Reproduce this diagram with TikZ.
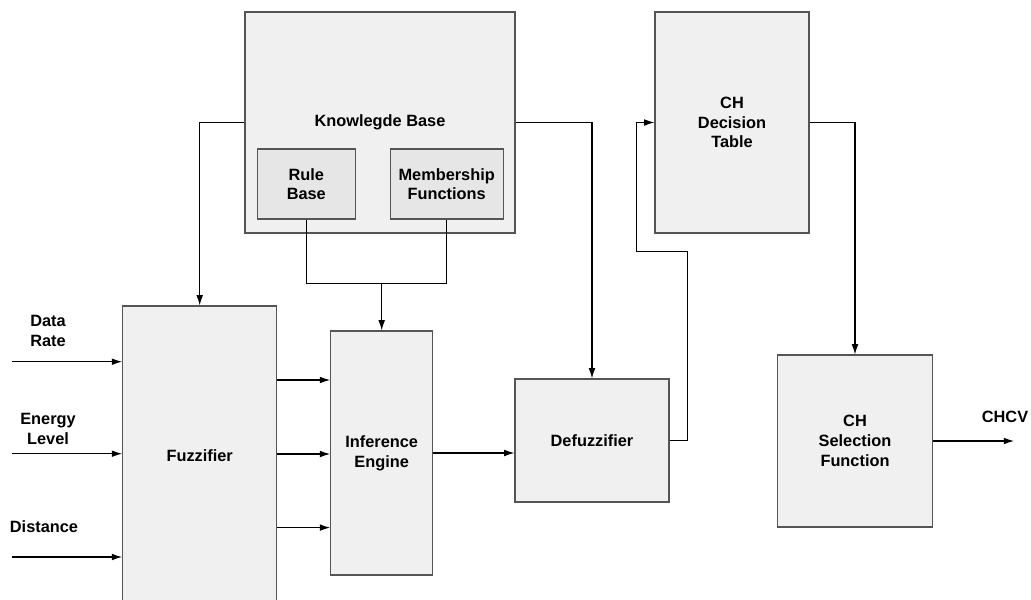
\documentclass[tikz,border=0pt]{standalone}
\usepackage{fontspec}
\setmainfont{Liberation Sans}
\usetikzlibrary{arrows.meta,calc}
\definecolor{boxfill}{HTML}{F0F0F0}
\definecolor{innerfill}{HTML}{E6E6E6}
\definecolor{boxline}{HTML}{555555}
\begin{document}
\begin{tikzpicture}[x=0.02cm, y=-0.02cm,
    every node/.style={font=\fontsize{9.3}{11.2}\selectfont\bfseries, align=center},
    block/.style={draw=boxline, line width=0.7pt, fill=boxfill, inner sep=0pt},
    subblock/.style={block, fill=innerfill},
    link/.style={line width=0.6pt},
    flow/.style={link, -{Latex[length=5.8pt,width=3.8pt]}}]
    \clip (0,0) rectangle (1031,599);

    % Knowledge base with its two parts
    \node[block, minimum width=270*0.02cm, minimum height=221*0.02cm] (kb) at (380,122.5) {Knowlegde Base};
    \node[subblock, minimum width=98*0.02cm, minimum height=70*0.02cm] (rule) at (306.3,184) {Rule\\Base};
    \node[subblock, minimum width=113*0.02cm, minimum height=70*0.02cm] (memb) at (446.7,184) {Membership\\Functions};

    % Fuzzy controller chain
    \node[block, minimum width=154*0.02cm, minimum height=300*0.02cm] (fuzz) at (199.7,456) {Fuzzifier};
    \node[block, minimum width=102*0.02cm, minimum height=244*0.02cm] (inf) at (381.7,453) {Inference\\Engine};
    \node[block, minimum width=154*0.02cm, minimum height=123*0.02cm] (defuzz) at (592,440.5) {Defuzzifier};

    % Cluster head stage
    \node[block, minimum width=154*0.02cm, minimum height=221*0.02cm] (table) at (732,122.5) {CH\\Decision\\Table};
    \node[block, minimum width=155*0.02cm, minimum height=172*0.02cm] (select) at (855,441) {CH\\Selection\\Function};

    % Inputs
    \node (rate) at (48,331) {Data\\Rate};
    \node (energy) at (48,429) {Energy\\Level};
    \node (dist) at (44,527) {Distance};
    \coordinate (in1) at (12,361.7);
    \coordinate (in2) at (12,453.7);
    \coordinate (in3) at (12,557);
    \draw[flow] (in1) -- (in1 -| fuzz.west);
    \draw[flow] (in2) -- (in2 -| fuzz.west);
    \draw[flow] (in3) -- (in3 -| fuzz.west);

    % Knowledge base links
    \draw[flow] (kb.west) -| (fuzz.north);
    \draw[flow] (kb.east) -| (defuzz.north);
    \coordinate (join) at (381.7,283.3);
    \draw[link] (rule.south) |- (join) -| (memb.south);
    \draw[flow] (join) -- (inf.north);

    % Fuzzifier to inference engine
    \foreach \y in {380,454,527.6}
      \draw[flow] (fuzz.east |- 0,\y) -- (inf.west |- 0,\y);
    \draw[flow] (inf.east) -- (inf.east -| defuzz.west);

    % Feedback to the decision table
    \coordinate (fb1) at (687.7,251.3);
    \coordinate (fb2) at (636.3,251.3);
    \draw[flow] (defuzz.east) -| (fb1) -- (fb2) |- (table.west);
    \draw[flow] (table.east) -| (select.north);

    % Output
    \coordinate (out) at (1014,441);
    \draw[flow] (select.east) -- (out);
    \node (chcv) at (1005,417) {CHCV};
\end{tikzpicture}
\end{document}
